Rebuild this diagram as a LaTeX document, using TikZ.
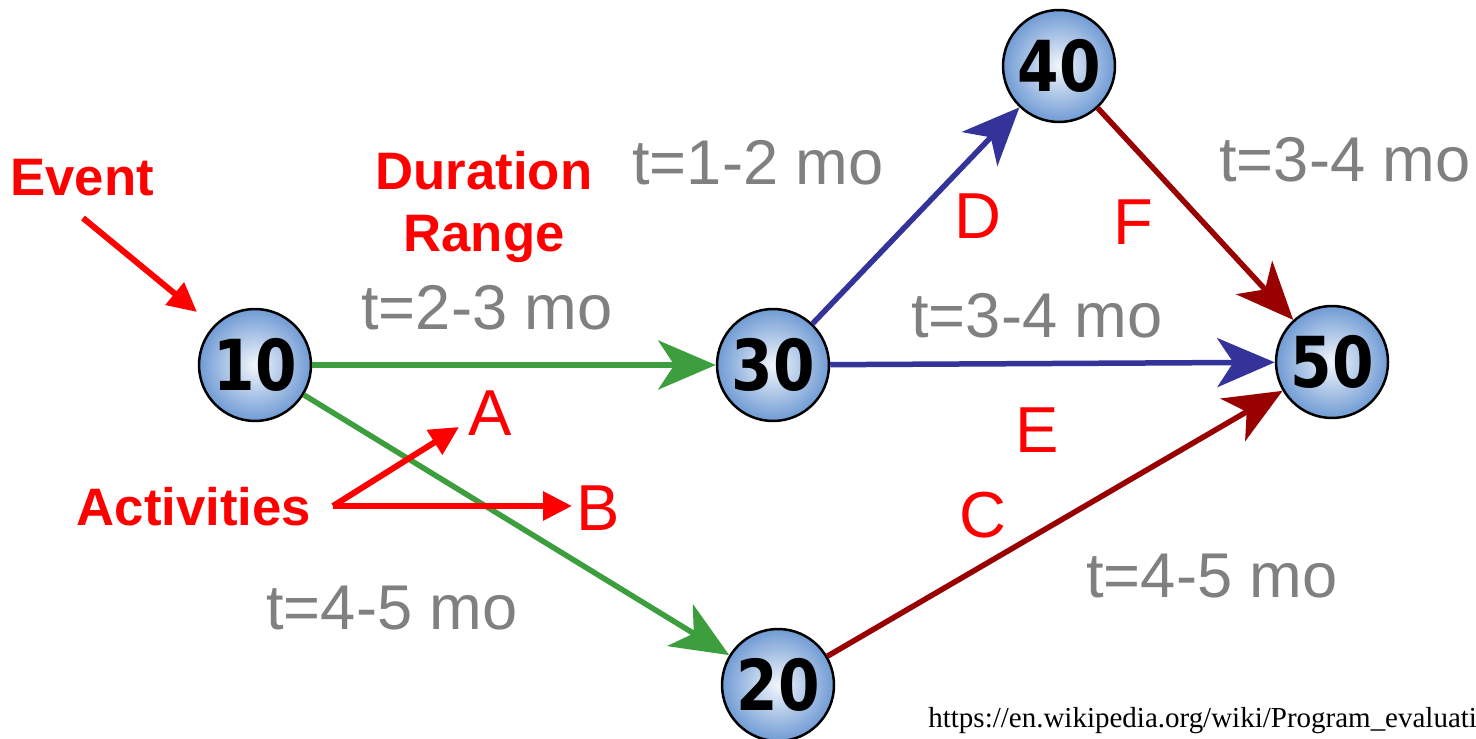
\documentclass[tikz,border=0pt]{standalone}
\usepackage{fontspec}
\setmainfont{Liberation Sans}
\newfontfamily\numfont[FakeStretch=0.85]{DejaVu Sans}
\newfontfamily\urlfont{Liberation Serif}
\usetikzlibrary{arrows.meta}

\definecolor{actgreen}{RGB}{60,158,60}
\definecolor{actblue}{RGB}{51,51,153}
\definecolor{actred}{RGB}{153,0,0}
\definecolor{rimblue}{RGB}{112,155,212}
\definecolor{coreblue}{RGB}{242,246,252}

\tikzset{
  event/.style={circle, draw=black, line width=0.05cm, minimum size=2.24cm,
    inner sep=0pt, inner color=coreblue, outer color=rimblue,
    font=\numfont\bfseries\fontsize{40}{40}\selectfont},
  activity/.style={line width=0.11cm, -{Stealth[length=1.15cm,width=0.98cm,inset=0.32cm]}},
  duration/.style={text=gray, font=\fontsize{36}{36}\selectfont},
  letter/.style={text=red, font=\fontsize{37}{37}\selectfont},
  callout/.style={text=red, align=center, font=\bfseries\fontsize{30}{35}\selectfont},
  pointer/.style={red, line width=0.12cm, -{Triangle[length=0.58cm,width=0.56cm]}},
}

\begin{document}
\begin{tikzpicture}[x=0.02cm, y=-0.02cm]
  \useasboundingbox (0,0) rectangle (1476,739);
  \clip (0,0) rectangle (1476,739);

  % events
  \node[event] (n10) at (255,365) {10};
  \node[event] (n30) at (773,365) {30};
  \node[event] (n40) at (1059,66) {40};
  \node[event] (n50) at (1332,362) {50};
  \node[event] (n20) at (778,685) {20};

  % activities
  \draw[activity, actgreen] (n10) -- (n30);
  \draw[activity, actgreen] (n10) -- (n20);
  \draw[activity, actblue] (n30) -- (n40);
  \draw[activity, actblue] (n30) -- (n50);
  \draw[activity, actred] (n40) -- (n50);
  \draw[activity, actred] (n20) -- (n50);

  % activity letters
  \node[letter] (lA) at (490,413) {A};
  \node[letter] (lB) at (598,508) {B};
  \node[letter] (lC) at (983,515) {C};
  \node[letter] (lD) at (978,216) {D};
  \node[letter] (lE) at (1037,430) {E};
  \node[letter] (lF) at (1133,222) {F};

  % durations
  \node[duration] (t23) at (487,308) {t=2-3 mo};
  \node[duration] (t12) at (758,163) {t=1-2 mo};
  \node[duration] (t34a) at (1345,160) {t=3-4 mo};
  \node[duration] (t34b) at (1037,316) {t=3-4 mo};
  \node[duration] (t45a) at (392,608) {t=4-5 mo};
  \node[duration] (t45b) at (1212,576) {t=4-5 mo};

  % callouts
  \node[callout] (evt) at (82,178) {Event};
  \node[callout] (rng) at (484,207) {Duration\\Range};
  \node[callout] (act) at (194,507) {Activities};
  \coordinate (evtTail) at (83,218);
  \coordinate (evtTip) at (197,312);
  \coordinate (fork) at (333,506);
  \coordinate (tipA) at (459,427);
  \coordinate (tipB) at (572,506);
  \draw[pointer] (evtTail) -- (evtTip);
  \draw[pointer] (fork) -- (tipA);
  \draw[pointer] (fork) -- (tipB);

  % source
  \node[anchor=base west, inner sep=0pt, font=\urlfont\fontsize{16.5}{18}\selectfont]
    (src) at (928,727) {https://en.wikipedia.org/wiki/Program\_evaluati};
\end{tikzpicture}
\end{document}
